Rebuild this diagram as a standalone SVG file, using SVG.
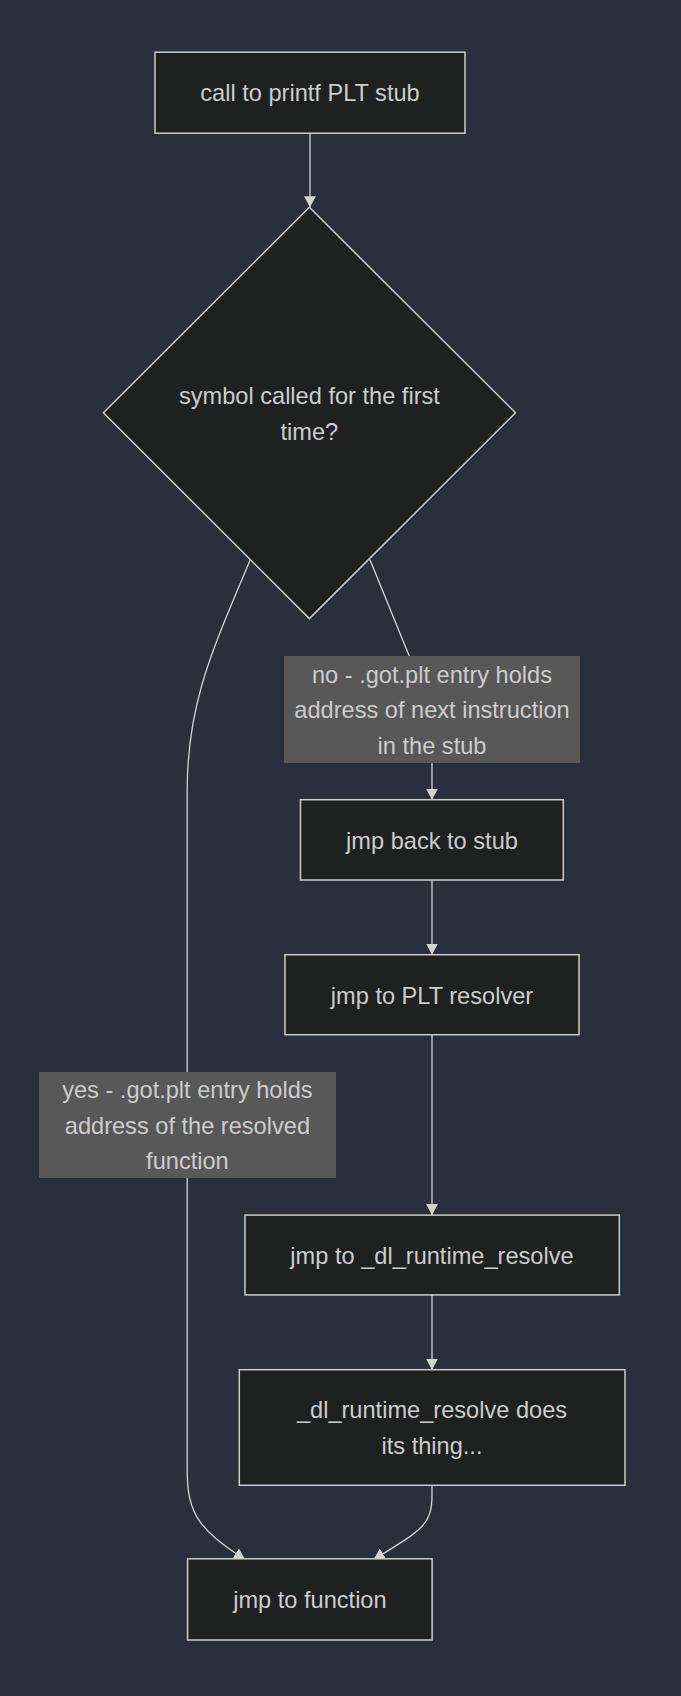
<svg xmlns="http://www.w3.org/2000/svg" width="681" height="1696" viewBox="0 0 681 1696">
<style>
.node rect, .node polygon { fill: #1f2020; stroke: #cccccc; stroke-width: 1.5; }
.lbl rect { fill: #585858; stroke: none; }
text { font-family: "Liberation Sans", Arial, sans-serif; font-size: 23.6px; fill: #cccccc; text-anchor: middle; }
.edge { fill: none; stroke: #d3d3d3; stroke-width: 1.3; marker-end: url(#arrow); }
</style>
<defs>
<marker id="arrow" viewBox="0 0 10 10" refX="10" refY="5" markerWidth="11" markerHeight="12" markerUnits="userSpaceOnUse" orient="auto" preserveAspectRatio="none">
<path d="M0,0 L10,5 L0,10 z" fill="#d3d3d3"/>
</marker>
</defs>
<rect x="0" y="0" width="681" height="1696" fill="#2a2f3c"/>
<g id="connectors">
<path class="edge" d="M310 133 L310 207.3"/>
<path class="edge" d="M370 559.7 L409 655.5 C425 695 432 715 432 740 L432 799.7"/>
<path class="edge" d="M250.2 559.7 C215 645 187.2 700 187.2 790 L187.2 1470 C187.2 1515 200 1530 245 1559.5"/>
<path class="edge" d="M432 880 L432 954.7"/>
<path class="edge" d="M432 1035 L432 1215.1"/>
<path class="edge" d="M432 1295 L432 1369.7"/>
<path class="edge" d="M432 1485.3 L432 1495 C432 1525 422 1530 373.6 1559.5"/>
</g>
<g id="label-no" class="lbl">
<rect x="284" y="656" width="296" height="107"/>
<text x="432" y="682.6">no - .got.plt entry holds</text>
<text x="432" y="718.1">address of next instruction</text>
<text x="432" y="753.6">in the stub</text>
</g>
<g id="label-yes" class="lbl">
<rect x="39" y="1072" width="297" height="106"/>
<text x="187.4" y="1098">yes - .got.plt entry holds</text>
<text x="187.4" y="1133.5">address of the resolved</text>
<text x="187.4" y="1169">function</text>
</g>
<g id="node-call" class="node">
<rect x="155" y="52.2" width="310" height="81"/>
<text x="310" y="101.3">call to printf PLT stub</text>
</g>
<g id="node-decision" class="node">
<polygon points="309.4,207.3 515.5,412.7 309.4,618.6 103.4,412.7"/>
<text x="309.4" y="404">symbol called for the first</text>
<text x="309.4" y="439.5">time?</text>
</g>
<g id="node-jmp-back" class="node">
<rect x="300.5" y="799.7" width="262.8" height="80.3"/>
<text x="432" y="848.5">jmp back to stub</text>
</g>
<g id="node-plt-resolver" class="node">
<rect x="285" y="954.7" width="294" height="80"/>
<text x="432" y="1003.5">jmp to PLT resolver</text>
</g>
<g id="node-jmp-dl" class="node">
<rect x="245" y="1215.1" width="374.3" height="79.8"/>
<text x="432" y="1263.5">jmp to _dl_runtime_resolve</text>
</g>
<g id="node-dl-does" class="node">
<rect x="239.3" y="1369.7" width="385.7" height="115.6"/>
<text x="432" y="1418.3">_dl_runtime_resolve does</text>
<text x="432" y="1453.8">its thing...</text>
</g>
<g id="node-jmp-function" class="node">
<rect x="187.6" y="1558.8" width="244.5" height="81.2"/>
<text x="309.9" y="1608">jmp to function</text>
</g>
</svg>
